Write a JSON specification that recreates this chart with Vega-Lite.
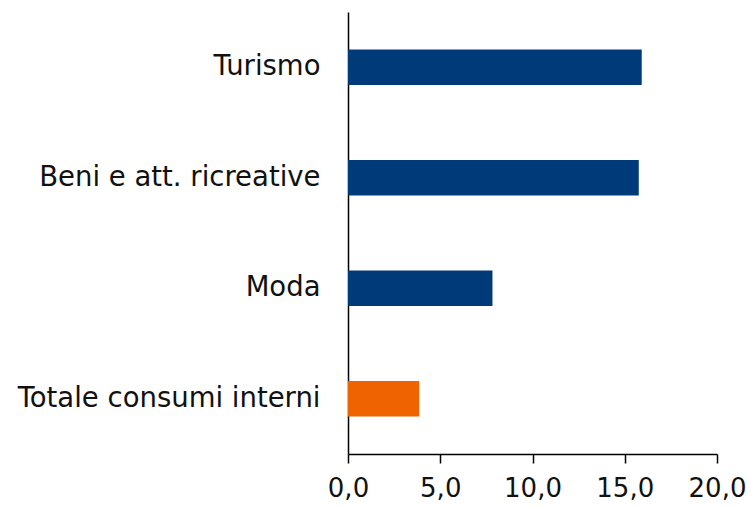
{
  "$schema": "https://vega.github.io/schema/vega-lite/v6.json",
  "width": 369,
  "height": 442,
  "autosize": {"type": "none"},
  "padding": {"left": 348, "top": 12, "right": 31, "bottom": 53},
  "background": "white",
  "config": {"view": {"stroke": null}},
  "data": {"values": [
    {"cat": "Turismo", "val": 15.92, "tot": "no"},
    {"cat": "Beni e att. ricreative", "val": 15.76, "tot": "no"},
    {"cat": "Moda", "val": 7.83, "tot": "no"},
    {"cat": "Totale consumi interni", "val": 3.86, "tot": "yes"}
  ]},
  "mark": {"type": "bar"},
  "encoding": {
    "y": {"field": "cat", "type": "nominal", "sort": null,
      "scale": {"paddingInner": 0.68, "paddingOuter": 0.34},
      "axis": {"title": null, "ticks": false, "domainColor": "black", "domainWidth": 1.5,
        "labelFont": "DejaVu Sans", "labelFontSize": 27.5, "labelColor": "#111111", "labelPadding": 28, "labelLimit": 400}},
    "x": {"field": "val", "type": "quantitative",
      "scale": {"domain": [0, 20], "nice": false},
      "axis": {"title": null, "grid": false, "values": [0, 5, 10, 15, 20],
        "labelExpr": "replace(format(datum.value, '.1f'), '.', ',')",
        "domainColor": "black", "domainWidth": 1.5, "tickColor": "black", "tickWidth": 1.5, "tickSize": 9,
        "labelFont": "DejaVu Sans", "labelFontSize": 26, "labelColor": "#111111", "labelPadding": 12, "labelFlush": false}},
    "color": {"field": "tot", "type": "nominal", "legend": null,
      "scale": {"domain": ["no", "yes"], "range": ["#003A78", "#F06400"]}}
  }
}
